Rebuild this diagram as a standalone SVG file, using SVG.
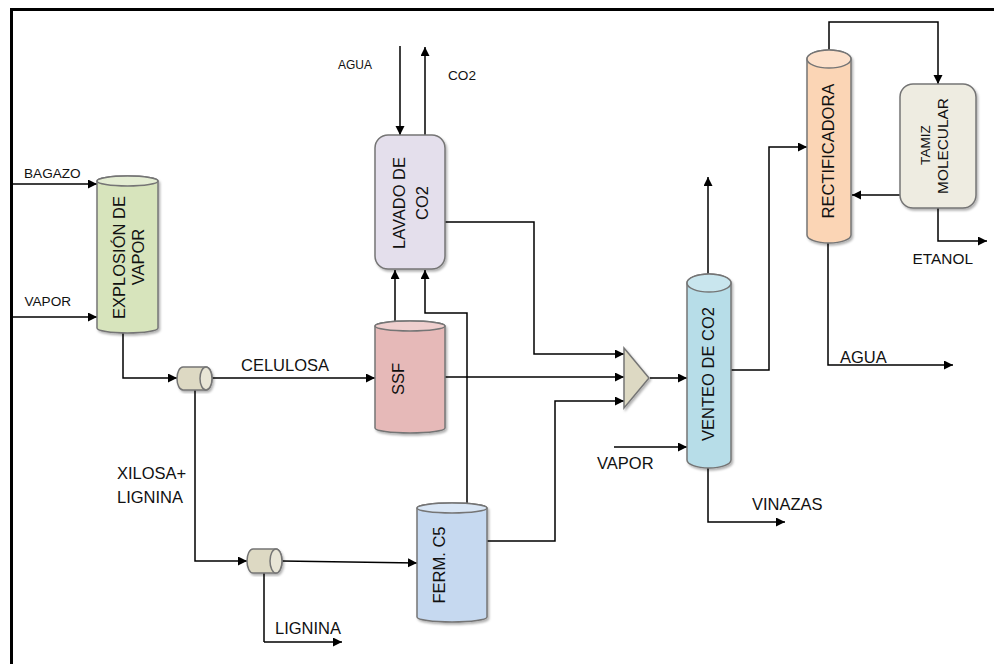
<svg xmlns="http://www.w3.org/2000/svg" width="994" height="664" viewBox="0 0 994 664">
<defs>
<style>
text{font-family:"Liberation Sans",Arial,sans-serif;fill:#111}
.s12{font-size:12px}.s135{font-size:13.6px}.s15{font-size:15.4px}.s16{font-size:16.5px}
.m{text-anchor:middle}
.b{stroke:#757575;stroke-width:1.5}
.c{fill:none;stroke:#000;stroke-width:1.5;marker-end:url(#a)}
.p{fill:none;stroke:#000;stroke-width:1.5}
</style>
<marker id="a" markerUnits="userSpaceOnUse" markerWidth="10" markerHeight="10" refX="9" refY="4.5" orient="auto"><path d="M0 0L9 4.5L0 9Z" fill="#000"/></marker>
<filter id="sh" x="-15%" y="-15%" width="130%" height="130%"><feDropShadow dx="1.5" dy="2" stdDeviation="1.2" flood-color="#000" flood-opacity=".3"/></filter>
</defs>
<rect width="994" height="664" fill="#fff"/>
<path d="M11.5 664V9.5H994" fill="none" stroke="#000" stroke-width="3"/>
<g id="connectors">
<path class="c" d="M13 184H97"/>
<path class="c" d="M13 317H97"/>
<path class="c" d="M123 333V378H177"/>
<path class="c" d="M212 378H375"/>
<path class="c" d="M195 390V561H247"/>
<path class="c" d="M282 561L417 563"/>
<path class="p" d="M264 573V642"/>
<path class="c" d="M264 642H342"/>
<path class="c" d="M400 46V135"/>
<path class="c" d="M425 135V47"/>
<path class="c" d="M395 321V270"/>
<path class="c" d="M467 503V313H425V270"/>
<path class="c" d="M445 222H534V354H624"/>
<path class="c" d="M445 377H624"/>
<path class="c" d="M487 541H555V401H624"/>
<path class="c" d="M650 378H687"/>
<path class="c" d="M614 447H687"/>
<path class="c" d="M708 274V177"/>
<path class="c" d="M708 468V522H785"/>
<path class="c" d="M731 370H769V147H807"/>
<path class="c" d="M829 50V22H938V84"/>
<path class="c" d="M900 195H852"/>
<path class="c" d="M938 208V241H987"/>
<path class="c" d="M828 243V365H953"/>
</g>
<g id="explosion">
<path class="b" filter="url(#sh)" fill="#d7e4bc" d="M97 181A30.500 5 0 0 1 158 181V328A30.500 5 0 0 1 97 328Z"/>
<ellipse class="b" fill="#e4edd3" cx="127.500" cy="181" rx="30.500" ry="5"/>
<text class="s16 m" transform="translate(125 257.500) rotate(-90)">EXPLOSIÓN DE</text>
<text class="s16 m" transform="translate(143.500 257) rotate(-90)">VAPOR</text>
</g>
<g id="sep1">
<path class="b" filter="url(#sh)" fill="#ddd9c3" d="M183 367H206A6 11.500 0 0 1 206 390H183A6 11.500 0 0 1 183 367Z"/>
<ellipse class="b" fill="#e8e5d6" cx="206" cy="378.500" rx="6" ry="11.500"/>
</g>
<g id="sep2">
<path class="b" filter="url(#sh)" fill="#ddd9c3" d="M253 549H276A6 12 0 0 1 276 573H253A6 12 0 0 1 253 549Z"/>
<ellipse class="b" fill="#e8e5d6" cx="276" cy="561" rx="6" ry="12"/>
</g>
<g id="lavado">
<rect class="b" filter="url(#sh)" fill="#e4dfec" x="375" y="135" width="70" height="134" rx="13"/>
<text class="s16 m" transform="translate(405 203) rotate(-90)">LAVADO DE</text>
<text class="s16 m" transform="translate(428 203) rotate(-90)">CO2</text>
</g>
<g id="ssf">
<path class="b" filter="url(#sh)" fill="#e6b9b8" d="M375 326A35 5 0 0 1 445 326V428A35 5 0 0 1 375 428Z"/>
<ellipse class="b" fill="#efcfce" cx="410" cy="326" rx="35" ry="5"/>
<text class="s16 m" transform="translate(403.500 379) rotate(-90)">SSF</text>
</g>
<g id="ferm">
<path class="b" filter="url(#sh)" fill="#c6d9f0" d="M417 508A35 5 0 0 1 487 508V617A35 5 0 0 1 417 617Z"/>
<ellipse class="b" fill="#d9e6f5" cx="452" cy="508" rx="35" ry="5"/>
<text class="s16 m" transform="translate(445 565) rotate(-90)">FERM. C5</text>
</g>
<g id="mixer">
<path class="b" filter="url(#sh)" fill="#ddd9c3" d="M624 348L649 378L624 408Z"/>
</g>
<g id="venteo">
<path class="b" filter="url(#sh)" fill="#b7dde8" d="M687 283A22 9 0 0 1 731 283V460A22 8 0 0 1 687 460Z"/>
<ellipse class="b" fill="#c9e6ee" cx="709" cy="283" rx="22" ry="9"/>
<text class="s16 m" transform="translate(714 374) rotate(-90)">VENTEO DE CO2</text>
</g>
<g id="rectificadora">
<path class="b" filter="url(#sh)" fill="#fbd5b5" d="M807 59A22 9 0 0 1 851 59V235A22 8 0 0 1 807 235Z"/>
<ellipse class="b" fill="#fce0ca" cx="829" cy="59" rx="22" ry="9"/>
<text class="s16 m" transform="translate(834 151) rotate(-90)">RECTIFICADORA</text>
</g>
<g id="tamiz">
<rect class="b" filter="url(#sh)" fill="#eeece1" x="900" y="84" width="76" height="124" rx="13"/>
<text class="s135 m" transform="translate(930 145) rotate(-90)">TAMIZ</text>
<text class="s15 m" transform="translate(948 146) rotate(-90)">MOLECULAR</text>
</g>
<g id="labels">
<text class="s135" x="24" y="178">BAGAZO</text>
<text class="s135" x="24.500" y="306">VAPOR</text>
<text class="s12" x="338" y="69">AGUA</text>
<text class="s135" x="448" y="80">CO2</text>
<text class="s16" x="241" y="371">CELULOSA</text>
<text class="s16" x="117" y="479">XILOSA+</text>
<text class="s16" x="117" y="503">LIGNINA</text>
<text class="s16" x="275" y="634">LIGNINA</text>
<text class="s16" x="597" y="469">VAPOR</text>
<text class="s16" x="752" y="510">VINAZAS</text>
<text class="s16" x="840" y="363">AGUA</text>
<text class="s15" x="912.500" y="264">ETANOL</text>
</g>
</svg>
